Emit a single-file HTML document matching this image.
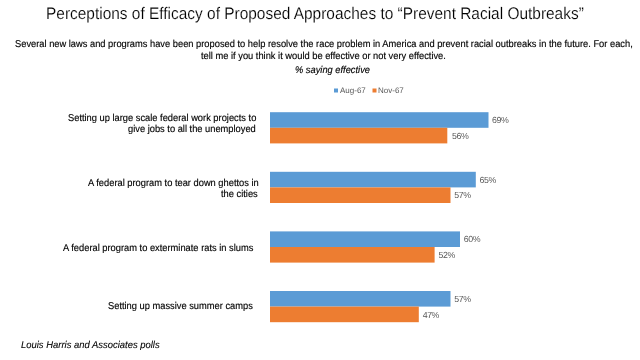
<!DOCTYPE html>
<html><head><meta charset="utf-8">
<style>
html,body{margin:0;padding:0;background:#fff;}
body{width:640px;height:360px;position:relative;overflow:hidden;font-family:"Liberation Sans",sans-serif;}
.t{position:absolute;white-space:pre;line-height:1;filter:grayscale(1);text-rendering:geometricPrecision;}
.title{font-size:16.8px;color:#000;-webkit-text-stroke:0.15px #fff;paint-order:fill stroke;left:46px;top:5.9px;transform-origin:0 0;transform:scaleX(0.920);}
.sub{font-size:9.9px;color:#000;-webkit-text-stroke:0.15px #000;transform-origin:0 0;transform:scaleX(0.9425);}
.cat{font-size:9.9px;color:#000;-webkit-text-stroke:0.15px #000;transform-origin:0 0;transform:scaleX(0.9425);}
.dl{font-size:8.8px;color:#595959;letter-spacing:-0.45px;}
.leg{font-size:8px;color:#595959;}
.foot{font-size:9.9px;color:#000;font-style:italic;-webkit-text-stroke:0.1px #000;transform-origin:0 0;transform:scaleX(0.9556);}
svg{position:absolute;left:0;top:0;}
</style></head><body>
<svg width="640" height="360">
  <rect x="270" y="112.2" width="218.5" height="15.6" fill="#5B9BD5"/>
  <rect x="270" y="127.8" width="177.3" height="15.6" fill="#ED7D31"/>
  <rect x="270" y="171.8" width="205.8" height="15.6" fill="#5B9BD5"/>
  <rect x="270" y="187.4" width="180.5" height="15.6" fill="#ED7D31"/>
  <rect x="270" y="231.4" width="190.0" height="15.6" fill="#5B9BD5"/>
  <rect x="270" y="247.0" width="164.6" height="15.6" fill="#ED7D31"/>
  <rect x="270" y="291.0" width="180.5" height="15.6" fill="#5B9BD5"/>
  <rect x="270" y="306.6" width="148.8" height="15.6" fill="#ED7D31"/>
  <rect x="334" y="88.5" width="4" height="4" fill="#5B9BD5"/>
  <rect x="372.5" y="88.5" width="4" height="4" fill="#ED7D31"/>
</svg>
<div class="t title">Perceptions of Efficacy of Proposed Approaches to “Prevent Racial Outbreaks”</div>
<div class="t sub" style="left:15px;top:39.8px">Several new laws and programs have been proposed to help resolve the race problem in America and prevent racial outbreaks in the future. For each,</div>
<div class="t sub" style="left:201px;top:51.6px">tell me if you think it would be effective or not very effective.</div>
<div class="t sub" style="left:295px;top:65.6px;font-style:italic">% saying effective</div>
<div class="t leg" style="left:340px;top:86.5px">Aug-67</div>
<div class="t leg" style="left:378px;top:86.5px">Nov-67</div>

<div class="t cat" style="left:68px;top:113.85px">Setting up large scale federal work projects to</div>
<div class="t cat" style="left:128px;top:125.25px">give jobs to all the unemployed</div>
<div class="t cat" style="left:88px;top:179.25px">A federal program to tear down ghettos in</div>
<div class="t cat" style="left:221px;top:190.05px">the cities</div>
<div class="t cat" style="left:62.5px;top:243.95px">A federal program to exterminate rats in slums</div>
<div class="t cat" style="left:108px;top:301.85px">Setting up massive summer camps</div>

<div class="t dl" style="left:492px;top:116.2px">69%</div>
<div class="t dl" style="left:452px;top:131.8px">56%</div>
<div class="t dl" style="left:479.6px;top:175.8px">65%</div>
<div class="t dl" style="left:454.3px;top:191.4px">57%</div>
<div class="t dl" style="left:463.8px;top:235.4px">60%</div>
<div class="t dl" style="left:438.5px;top:251px">52%</div>
<div class="t dl" style="left:454.3px;top:295px">57%</div>
<div class="t dl" style="left:422.7px;top:310.6px">47%</div>

<div class="t foot" style="left:21px;top:341.2px">Louis Harris and Associates polls</div>
</body></html>
